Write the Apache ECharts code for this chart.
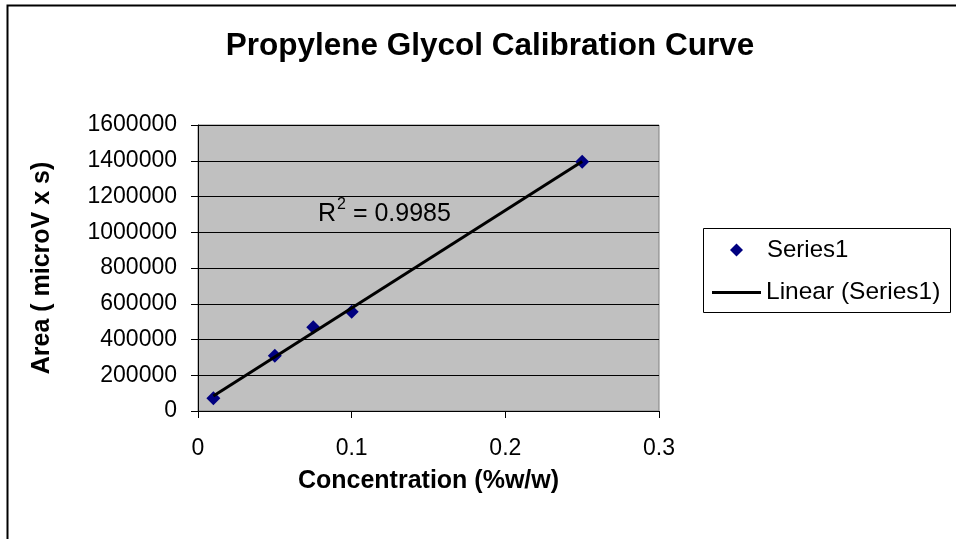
<!DOCTYPE html>
<html><head><meta charset="utf-8">
<script src="https://cdn.jsdelivr.net/npm/echarts@6/dist/echarts.min.js"></script>
<style>html,body{margin:0;padding:0;background:#fff}#c{width:956px;height:539px}</style>
</head><body><div id="c"></div>
<script>
var concentration = [0.01, 0.05, 0.075, 0.1, 0.25];
var area = [71000, 309000, 468000, 555000, 1395000];
var xTicks = [0, 0.1, 0.2, 0.3];
var yTicks = [0, 200000, 400000, 600000, 800000, 1000000, 1200000, 1400000, 1600000];
var rSquaredText = '0.9985';

// least-squares trendline computed from the data
var n = concentration.length, mx = 0, my = 0;
for (var i = 0; i < n; i++) { mx += concentration[i]; my += area[i]; }
mx /= n; my /= n;
var sxx = 0, sxy = 0;
for (var i = 0; i < n; i++) { sxx += (concentration[i]-mx)*(concentration[i]-mx); sxy += (concentration[i]-mx)*(area[i]-my); }
var slope = sxy / sxx, icpt = my - slope * mx;
var xMin = Math.min.apply(null, concentration), xMax = Math.max.apply(null, concentration);
var trend = [[xMin, icpt + slope*xMin], [xMax, icpt + slope*xMax]];

var FONT = 'Liberation Sans, Arial, sans-serif';
var chart = echarts.init(document.getElementById('c'));
chart.setOption({
  animation: false,
  backgroundColor: '#fff',
  title: {
    text: 'Propylene Glycol Calibration Curve',
    left: 485, top: 25, textAlign: 'center',
    textStyle: { fontFamily: FONT, fontWeight: 'bold', fontSize: 31.5, color: '#000' }
  },
  grid: { left: 198, top: 125, width: 461, height: 286, show: true, backgroundColor: '#c0c0c0', borderColor: '#808080', borderWidth: 1 },
  xAxis: {
    type: 'value', min: xTicks[0], max: xTicks[xTicks.length-1], interval: 0.1,
    name: 'Concentration (%w/w)', nameLocation: 'middle', nameGap: 58,
    nameTextStyle: { fontFamily: FONT, fontWeight: 'bold', fontSize: 25, color: '#000' },
    axisLine: { show: true, onZero: false, lineStyle: { color: '#000', width: 1 } },
    axisTick: { show: true, inside: false, length: 7, lineStyle: { color: '#000' } },
    axisLabel: { fontFamily: FONT, fontSize: 23, color: '#000', margin: 26 },
    splitLine: { show: false }
  },
  yAxis: {
    type: 'value', min: yTicks[0], max: yTicks[yTicks.length-1], interval: 200000,
    name: 'Area ( microV x s)', nameLocation: 'middle', nameGap: 143, nameRotate: 90,
    nameTextStyle: { fontFamily: FONT, fontWeight: 'bold', fontSize: 25, color: '#000' },
    axisLine: { show: true, lineStyle: { color: '#000', width: 1 } },
    axisTick: { show: true, inside: false, length: 7, lineStyle: { color: '#000' } },
    axisLabel: { fontFamily: FONT, fontSize: 23, color: '#000', margin: 21, formatter: function(v){ return String(v); } },
    splitLine: { show: true, lineStyle: { color: '#000', width: 1 } }
  },
  legend: [
    { data: [{ name: 'Series1', icon: 'diamond', itemStyle: { color: '#000080', opacity: 1 } }], orient: 'vertical', left: 730, top: 238,
      itemWidth: 13, itemHeight: 13, itemGap: 0, padding: 0,
      textStyle: { fontFamily: FONT, fontSize: 24, color: '#000', lineHeight: 24, padding: [0,0,0,19] } },
    { data: [{ name: 'Linear (Series1)', icon: 'rect' }], orient: 'vertical', left: 712, top: 280,
      itemWidth: 49, itemHeight: 3, itemGap: 0, padding: 0,
      textStyle: { fontFamily: FONT, fontSize: 24.5, color: '#000', lineHeight: 24 } }
  ],
  graphic: [
    { type: 'rect', left: 5, top: 3, shape: { width: 1000, height: 600 }, style: { fill: 'none', stroke: '#000', lineWidth: 2 }, silent: true, z: -1 },
    { type: 'rect', left: 703, top: 228, shape: { width: 247, height: 84 }, style: { fill: '#fff', stroke: '#000', lineWidth: 1 }, silent: true, z: 0 },
    { type: 'text', left: 318, top: 197, z: 10,
      style: { text: '{b|R}{s|2}{b| = ' + rSquaredText + '}', rich: {
        b: { fontFamily: FONT, fontSize: 25, fill: '#000', color: '#000', verticalAlign: 'bottom', lineHeight: 30 },
        s: { fontFamily: FONT, fontSize: 16, fill: '#000', color: '#000', verticalAlign: 'top', lineHeight: 30, padding: [0,0,14,1] } } } }
  ],
  series: [
    { name: 'Series1', type: 'scatter', data: concentration.map(function(x, i){ return [x, area[i]]; }),
      symbol: 'diamond', symbolSize: [14, 14], itemStyle: { color: '#000080', opacity: 1 }, z: 3 },
    { name: 'Linear (Series1)', type: 'line', data: trend, showSymbol: false, symbol: 'none',
      lineStyle: { color: '#000', width: 3 }, itemStyle: { color: '#000' }, z: 4 }
  ]
});
</script></body></html>
